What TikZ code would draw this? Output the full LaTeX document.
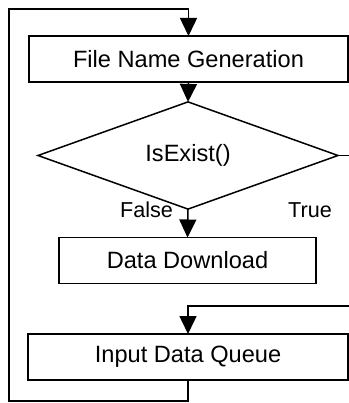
\documentclass[tikz,border=0pt]{standalone}
\usepackage{fontspec}
\setmainfont{Liberation Sans}
\usetikzlibrary{positioning}
\usetikzlibrary{arrows.meta}
\usetikzlibrary{shapes.geometric}

\begin{document}
\begin{tikzpicture}[x=1pt, y=-1pt,
    %Option for big filled arrows
    >={Triangle[length=18pt,width=17pt]}, %
    line width=1.5pt,
    inner sep=0pt, outer sep=0pt,%
    txt/.style={font=\fontsize{23.6}{27}\selectfont},
    lbl/.style={font=\fontsize{21.6}{25}\selectfont},
    stepbox/.style={draw, rectangle, txt, minimum height=46pt},
    test/.style={draw, diamond, txt, minimum width=300pt, minimum height=77pt},
    flow/.style={->},
]
    \useasboundingbox (0,0) rectangle (348,403);

    % Steps
    \node[stepbox, minimum width=319pt] (fng) at (188.5,59)  {File Name Generation};
    \node[test]                         (chk) at (188,155.5) {IsExist()};
    \node[stepbox, minimum width=257pt] (dd)  at (187.5,260.5) {Data Download};
    \node[stepbox, minimum width=320pt] (idq) at (188,357)  {Input Data Queue};

    % Branch labels
    \node[lbl] (fl) at (146.5,210) {False};
    \node[lbl] (tr) at (310,210)   {True};

    % Loop corners
    \coordinate (tr1) at (349,155.5);
    \coordinate (tr2) at (349,306);
    \coordinate (lb)  at (9,401);
    \coordinate (lt)  at (9,9);

    % Connectors
    \draw[flow] (fng.south) -- (chk.north);
    \draw[flow] (chk.south) -- (dd.north);
    \draw (chk.east) -- (tr1);
    \draw[flow] (tr2) -| (idq.north);
    \draw[flow] (idq.south) |- (lb) -- (lt) -| (fng.north);

\end{tikzpicture}
\end{document}
